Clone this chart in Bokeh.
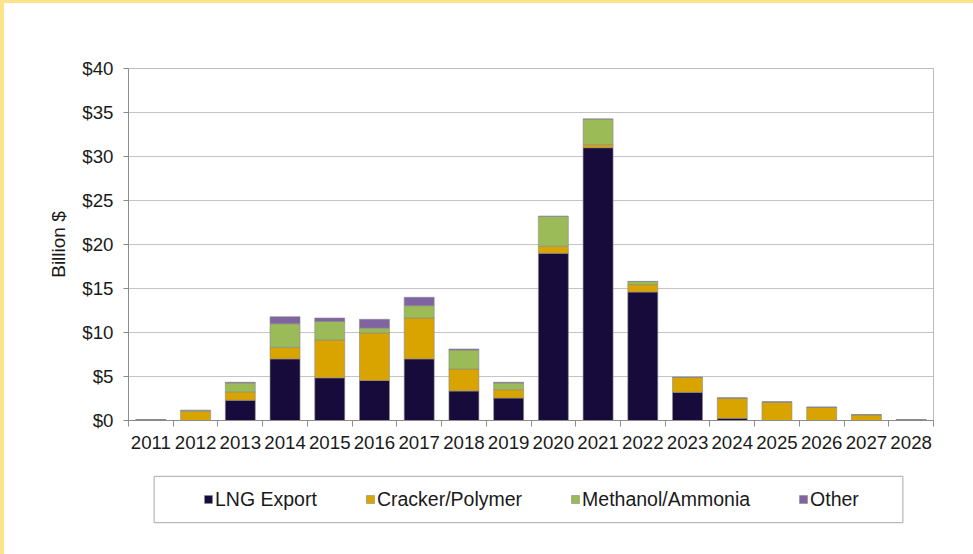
from bokeh.plotting import figure
from bokeh.layouts import column
from bokeh.models import (ColumnDataSource, FixedTicker, Legend, LegendItem,
                          NumeralTickFormatter, Range1d)
from bokeh.embed import file_html
from bokeh.resources import INLINE

# ---- data (Billion $) ----
years = [2011, 2012, 2013, 2014, 2015, 2016, 2017, 2018, 2019, 2020,
         2021, 2022, 2023, 2024, 2025, 2026, 2027, 2028]
lng_export = [0.1, 0.0, 2.3, 7.0, 4.85, 4.55, 7.0, 3.35, 2.55, 19.0,
              31.0, 14.6, 3.2, 0.25, 0.0, 0.0, 0.0, 0.1]
cracker_polymer = [0.0, 1.05, 0.95, 1.3, 4.3, 5.4, 4.65, 2.5, 0.95, 0.8,
                   0.35, 0.85, 1.7, 2.3, 2.1, 1.5, 0.65, 0.0]
methanol_ammonia = [0.0, 0.1, 1.0, 2.7, 2.1, 0.55, 1.4, 2.15, 0.75, 3.4,
                    2.9, 0.35, 0.0, 0.0, 0.0, 0.0, 0.0, 0.0]
other = [0.0, 0.0, 0.1, 0.8, 0.4, 1.0, 0.95, 0.12, 0.1, 0.0,
         0.0, 0.0, 0.0, 0.0, 0.0, 0.0, 0.0, 0.0]
series_names = ["LNG Export", "Cracker/Polymer", "Methanol/Ammonia", "Other"]
y_ticks = [0, 5, 10, 15, 20, 25, 30, 35, 40]

colors = ["#170B3B", "#D9A400", "#9BBB59", "#8064A2"]
FONT = "Liberation Sans"
TXT = "#1a1a1a"
AXC = "#8c8c8c"
stackers = ["lng", "cracker", "methanol", "other"]

source = ColumnDataSource(dict(year=years, lng=lng_export, cracker=cracker_polymer,
                               methanol=methanol_ammonia, other=other))
x_range = Range1d(years[0] - 0.5, years[-1] + 0.5)

p = figure(width=969, height=457, output_backend="svg", toolbar_location=None,
           x_range=x_range, y_range=Range1d(y_ticks[0], y_ticks[-1]),
           min_border_left=124, min_border_top=65, min_border_right=40,
           min_border_bottom=40)
p.background_fill_color = "white"
p.border_fill_color = "white"
p.outline_line_color = "#bdbdbd"
p.outline_line_width = 1

p.vbar_stack(stackers, x="year", width=0.67, source=source, fill_color=colors,
             line_color="#8a8a8a", line_width=0.6)

p.xgrid.grid_line_color = None
p.ygrid.grid_line_color = "#c4c4c4"
p.ygrid.grid_line_width = 1

# x axis: year labels at centres, tick marks between categories
xa = p.xaxis[0]
xa.ticker = FixedTicker(ticks=years, minor_ticks=[y - 0.5 for y in years] + [years[-1] + 0.5])
xa.major_tick_out = 0
xa.major_tick_in = 0
xa.minor_tick_out = 6
xa.minor_tick_in = 0
xa.minor_tick_line_color = AXC
xa.axis_line_color = AXC
xa.major_label_text_font = FONT
xa.major_label_text_font_size = "18.7px"
xa.major_label_text_color = TXT
xa.major_label_standoff = 9
xa.major_label_overrides = {y: str(y) for y in years}

# y axis
ya = p.yaxis[0]
ya.ticker = FixedTicker(ticks=y_ticks)
ya.formatter = NumeralTickFormatter(format="$0")
ya.major_tick_out = 5
ya.major_tick_in = 0
ya.minor_tick_line_color = None
ya.major_tick_line_color = AXC
ya.axis_line_color = AXC
ya.major_label_text_font = FONT
ya.major_label_text_font_size = "18.7px"
ya.major_label_text_color = TXT
ya.major_label_standoff = 10
ya.axis_label = "Billion $"
ya.axis_label_text_font = FONT
ya.axis_label_text_font_size = "19px"
ya.axis_label_text_font_style = "normal"
ya.axis_label_text_color = TXT
ya.axis_label_standoff = 10

# ---- legend strip: second figure, same borders, its renderers hidden ----
q = figure(width=969, height=94, output_backend="svg", toolbar_location=None,
           x_range=x_range, y_range=Range1d(-20, -10),
           min_border_left=124, min_border_right=40, min_border_top=10,
           min_border_bottom=24)
q.axis.visible = False
q.grid.grid_line_color = None
q.outline_line_color = None
q.background_fill_color = "white"
q.border_fill_color = "white"

frame_r = q.vbar(x="year", top="lng", width=0.67, source=source,
                 fill_color="white", line_color="#a8a8a8", line_width=1)
frame_r.visible = False
box_legend = Legend(items=[LegendItem(label=" ", renderers=[frame_r])],
                    location=(-68, 2), orientation="horizontal",
                    glyph_width=936, glyph_height=58, label_width=0, label_height=1,
                    label_standoff=0, label_text_font_size="1px", padding=0,
                    margin=0, spacing=0, border_line_color=None,
                    background_fill_alpha=0)
q.add_layout(box_legend, "center")

keys = q.vbar_stack(stackers, x="year", width=0.67, source=source, fill_color=colors,
                    line_color="#8a8a8a", line_width=0.6)
for k in keys:
    k.visible = False
legend = Legend(items=[LegendItem(label=n, renderers=[r]) for n, r in zip(series_names, keys)],
                location=(75, 19), orientation="horizontal",
                glyph_width=10, glyph_height=10, label_standoff=2, label_height=24,
                spacing=48, padding=0, margin=0,
                label_text_font=FONT, label_text_font_size="19.5px",
                label_text_color=TXT, border_line_color=None,
                background_fill_alpha=0)
q.add_layout(legend, "center")

layout = column(p, q, spacing=0,
                styles={"border-left": "4px solid #FDE38A", "border-top": "3px solid #FDE38A",
                        "border-bottom": "0px none", "border-right": "0px none",
                        "background-color": "white"})
open("out.html", "w").write(file_html(layout, INLINE))
